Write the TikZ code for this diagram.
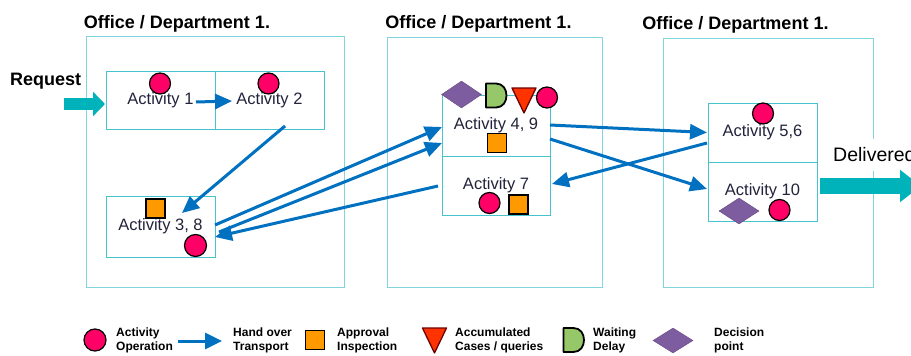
\documentclass[tikz,border=0pt]{standalone}
\usepackage{fontspec}
\setmainfont{Liberation Sans}
\usetikzlibrary{arrows.meta,calc,shapes.geometric}

\definecolor{opred}{RGB}{255,0,102}
\definecolor{apporange}{RGB}{255,153,0}
\definecolor{accred}{RGB}{255,51,0}
\definecolor{accedge}{RGB}{110,0,0}
\definecolor{waitgreen}{RGB}{150,200,105}
\definecolor{decpurple}{RGB}{125,92,160}
\definecolor{handblue}{RGB}{0,112,192}
\definecolor{flowteal}{RGB}{0,178,186}
\definecolor{actedge}{RGB}{70,195,205}
\definecolor{deptedge}{RGB}{130,212,222}
\definecolor{acttext}{RGB}{35,35,60}

\begin{document}
\begin{tikzpicture}[x=1pt,y=-1pt,
  deptbox/.style={draw=deptedge, line width=0.9pt, inner sep=0pt, outer sep=0pt},
  depttitle/.style={font=\bfseries\fontsize{18}{20}\selectfont, inner sep=0pt, anchor=base},
  actbox/.style={draw=actedge, line width=0.9pt, fill=white, inner sep=0pt, outer sep=0pt,
    minimum width=109pt, text=acttext, font=\fontsize{16.5}{19}\selectfont},
  opsym/.style={circle, draw=black, line width=1.2pt, fill=opred, minimum size=21pt, inner sep=0pt},
  appsym/.style={rectangle, draw=black, line width=1.4pt, fill=apporange, minimum size=19pt, inner sep=0pt},
  decsym/.style={diamond, fill=decpurple, draw=decpurple!80!black, line width=0.4pt,
    minimum width=40pt, minimum height=26pt, inner sep=0pt},
  handover/.style={draw=handblue, line width=3pt, -{Triangle[length=17pt,width=15pt]}},
  legendtext/.style={font=\bfseries\fontsize{12}{14}\selectfont, align=left, anchor=west, inner sep=0pt},
  waitsym/.pic={\draw[fill=waitgreen, draw=black, line width=1.8pt, line join=round]
    (-10,-12) -- (0,-12) .. controls (14,-12) and (14,12) .. (0,12) -- (-10,12) -- cycle;},
  accsym/.pic={\draw[fill=accred, draw=accedge, line width=1.3pt, line join=round]
    (-12,-12.5) -- (12,-12.5) -- (0,12.5) -- cycle;}
]
\clip (0,0) rectangle (911,356);

% departments
\node[deptbox, minimum width=258pt, minimum height=251pt] (dept1) at (215,161.5) {};
\node[deptbox, minimum width=215pt, minimum height=250pt] (dept2) at (494.5,162) {};
\node[deptbox, minimum width=210pt, minimum height=249pt] (dept3) at (768,162.5) {};
\node[depttitle] (title1) at (177,28.3) {Office / Department 1.};
\node[depttitle] (title2) at (478.5,28.3) {Office / Department 1.};
\node[depttitle] (title3) at (735.5,30) {Office / Department 1.};

% activities
\node[actbox, minimum height=58pt] (act1) at (160.5,100) {Activity 1};
\node[actbox, minimum height=58pt] (act2) at (269.5,100) {Activity 2};
\node[actbox, minimum height=61pt] (act38) at (160.5,226.5) {Activity 3, 8};
\node[actbox, minimum width=108pt, minimum height=61pt] (act49) at (496,125.5) {Activity 4, 9};
\node[actbox, minimum width=108pt, minimum height=59pt] (act7) at (496,185.5) {Activity 7};
\node[actbox, minimum height=59pt] (act56) at (762.5,132.5) {Activity 5,6};
\node[actbox, minimum height=59pt] (act10) at (762.5,191.5) {Activity 10};

% request and delivery
\node[font=\bfseries\fontsize{18}{20}\selectfont, anchor=base west, inner sep=0pt] (request) at (10,85) {Request};
\node[font=\fontsize{19.5}{22}\selectfont, anchor=west, fill=white, inner xsep=0pt, minimum height=32pt] (delivered) at (833,155) {Delivered};
\coordinate (reqstart) at (64,104);
\coordinate (delivtip) at (921,186);
\draw[draw=flowteal, line width=12pt, -{Triangle[length=12pt,width=24pt]}]
  (reqstart) -- ($(act1.west)+(-1,4)$);
\draw[draw=flowteal, line width=16pt, -{Triangle[length=21pt,width=31pt]}]
  ($(act10.east)+(3,-5.5)$) -- (delivtip);

% hand overs
\draw[handover] ($(act1.east)+(-19,2)$) -- ($(act2.west)+(17,1)$);
\draw[handover] ($(act2.south)+(15.5,-3)$) -- ($(act38.north)+(21.5,17)$);
\draw[handover] ($(act38.east)+(0,-1.5)$) -- ($(act49.west)+(0,1.5)$);
\draw[handover] ($(act38.east)+(4,5.5)$) -- ($(act49.west)+(0,17.5)$);
\draw[handover] ($(act7.west)+(-4,0.5)$) -- ($(act38.east)+(0,10.5)$);
\draw[handover] ($(act49.east)+(0,-0.5)$) -- ($(act56.west)+(-1,0)$);
\draw[handover] ($(act49.east)+(0,13.5)$) -- ($(act10.west)+(-1,-2.5)$);
\draw[handover] ($(act56.west)+(-1,10.5)$) -- ($(act7.east)+(2,-1.5)$);

% symbols on the activities
\node[opsym] (op1) at (160,83.5) {};
\node[opsym] (op2) at (268.5,83.5) {};
\node[appsym] (ap38) at (155.5,208.5) {};
\node[opsym, minimum size=22pt] (op38) at (195.5,245.5) {};
\node[decsym, minimum height=27pt] (dec49) at (461.5,94.5) {};
\pic at (496,95.5) {waitsym};
\pic at (524,100.5) {accsym};
\node[opsym] (op49) at (547,97.5) {};
\node[appsym] (ap49) at (497,143) {};
\node[opsym] (op7) at (489.5,203) {};
\node[appsym] (ap7) at (518.5,204.5) {};
\node[opsym] (op56) at (763,113.5) {};
\node[decsym] (dec10) at (739,211) {};
\node[opsym] (op10) at (779.5,210) {};

% legend
\node[opsym, minimum size=22pt] (lgop) at (95,340) {};
\node[legendtext] (lgoptext) at (116,340) {Activity\\Operation};
\coordinate (lgarrowstart) at (178,341);
\coordinate (lgarrowend) at (222,341);
\draw[draw=handblue, line width=3pt, -{Triangle[length=17pt,width=16pt]}] (lgarrowstart) -- (lgarrowend);
\node[legendtext] (lghandtext) at (233,340) {Hand over\\Transport};
\node[appsym] (lgap) at (315,340) {};
\node[legendtext] (lgaptext) at (337,340) {Approval\\Inspection};
\pic at (434.5,340.5) {accsym};
\node[legendtext] (lgacctext) at (455,340) {Accumulated\\Cases / queries};
\pic at (573.5,340) {waitsym};
\node[legendtext] (lgwaittext) at (593,340) {Waiting\\Delay};
\node[decsym, minimum height=25pt] (lgdec) at (673,340.5) {};
\node[legendtext] (lgdectext) at (714,340) {Decision\\point};
\end{tikzpicture}
\end{document}
